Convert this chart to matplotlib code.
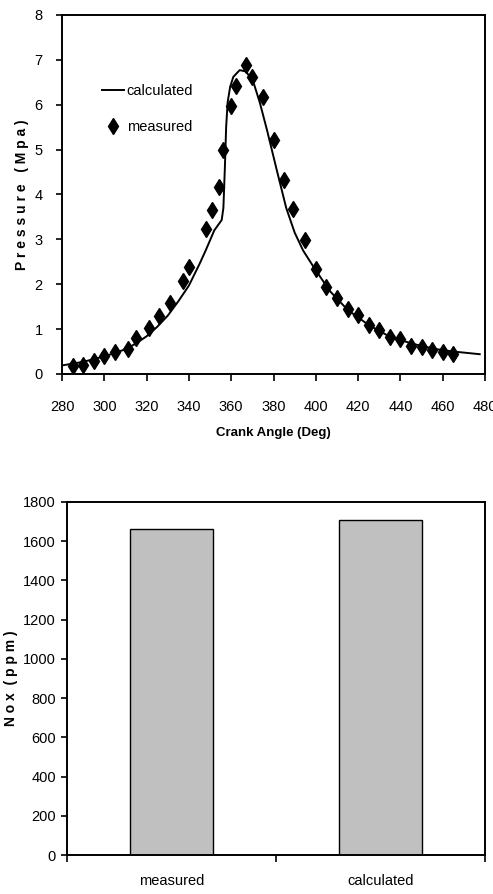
import matplotlib
matplotlib.use("Agg")
import matplotlib.pyplot as plt

# --- data ---
calc_angle = [280, 290, 300, 310, 315, 320, 325, 330, 335, 340, 345, 348, 352,
              355.5, 356.3, 357, 357.6, 358.3, 359.5, 361, 364, 367, 370.5,
              373.5, 377, 381.5, 386, 390, 394, 399, 403, 407, 415, 425, 435,
              446, 456, 465, 477.5]
calc_pressure = [0.19, 0.27, 0.39, 0.55, 0.68, 0.84, 1.05, 1.3, 1.62, 1.97, 2.45,
                 2.76, 3.2, 3.43, 3.7, 4.6, 5.5, 6.05, 6.4, 6.62, 6.77, 6.74,
                 6.5, 6.05, 5.42, 4.55, 3.7, 3.15, 2.75, 2.38, 2.1, 1.83, 1.43,
                 1.09, 0.83, 0.67, 0.56, 0.5, 0.44]

meas_angle = [285, 290, 295, 300, 305, 311, 315, 321, 326, 331, 337, 340, 348,
              351, 354, 356, 360, 362.4, 367, 370, 375, 380, 385, 389, 395,
              400, 405, 410, 415, 420, 425, 430, 435, 440, 445, 450, 455, 460,
              465]
meas_pressure = [0.18, 0.2, 0.29, 0.39, 0.5, 0.56, 0.8, 1.03, 1.3, 1.59, 2.08,
                 2.38, 3.24, 3.65, 4.17, 4.99, 5.98, 6.41, 6.88, 6.62, 6.18,
                 5.22, 4.33, 3.68, 2.99, 2.34, 1.93, 1.69, 1.44, 1.32, 1.09,
                 0.98, 0.83, 0.78, 0.63, 0.6, 0.54, 0.5, 0.45]

nox_labels = ["measured", "calculated"]
nox_values = [1660, 1710]

plt.rcParams['font.family'] = ['Liberation Sans', 'DejaVu Sans']
plt.rcParams['axes.linewidth'] = 1.4

fig = plt.figure(figsize=(4.93, 8.94), dpi=100)

# === Pressure vs crank angle ===
ax1 = fig.add_axes([0.1258, 0.5817, 0.858, 0.4016])
ax1.plot(calc_angle, calc_pressure, '-', color='black', linewidth=1.4, label='calculated')
ax1.plot(meas_angle, meas_pressure, 'd', color='black', markersize=8, label='measured')
ax1.set_xlim(280, 480)
ax1.set_ylim(0, 8)
ax1.set_xticks(range(280, 481, 20))
ax1.set_yticks(range(0, 9))
ax1.tick_params(axis='x', direction='out', length=5, width=1.2, pad=14, labelsize=10.5)
ax1.tick_params(axis='y', direction='out', length=4, width=1.2, pad=10, labelsize=10.5)
ax1.set_xlabel('Crank Angle (Deg)', fontsize=9.5, fontweight='bold')
ax1.xaxis.set_label_coords(0.5, -0.148)
ax1.set_ylabel('P r e s s u r e   ( M p a )', fontsize=10, fontweight='bold')
ax1.yaxis.set_label_coords(-0.078, 0.5)
ax1.legend(loc='center left', bbox_to_anchor=(0.094, 0.737), frameon=False,
           fontsize=10.5, handlelength=1.5, handletextpad=0.2, labelspacing=1.5,
           borderpad=0, borderaxespad=0)

# === NOx bar chart ===
ax2 = fig.add_axes([0.1359, 0.0436, 0.848, 0.3949])
pos = list(range(len(nox_labels)))
ax2.bar(pos, nox_values, width=0.4, color='#C0C0C0', edgecolor='black', linewidth=1.0)
ax2.set_xlim(-0.5, 1.5)
ax2.set_ylim(0, 1800)
ax2.set_yticks(range(0, 1801, 200))
ax2.set_xticks([-0.5, 0.5, 1.5])
ax2.set_xticklabels([])
ax2.set_xticks(pos, minor=True)
ax2.set_xticklabels(nox_labels, minor=True)
ax2.tick_params(axis='x', which='major', direction='out', length=5, width=1.2)
ax2.tick_params(axis='x', which='minor', length=0, pad=14, labelsize=10.5)
ax2.tick_params(axis='y', direction='out', length=4, width=1.2, pad=4, labelsize=10.5)
ax2.set_ylabel('N o x  ( p p m )', fontsize=10, fontweight='bold')
ax2.yaxis.set_label_coords(-0.118, 0.5)

fig.savefig('out.png', dpi=100, facecolor='white')
